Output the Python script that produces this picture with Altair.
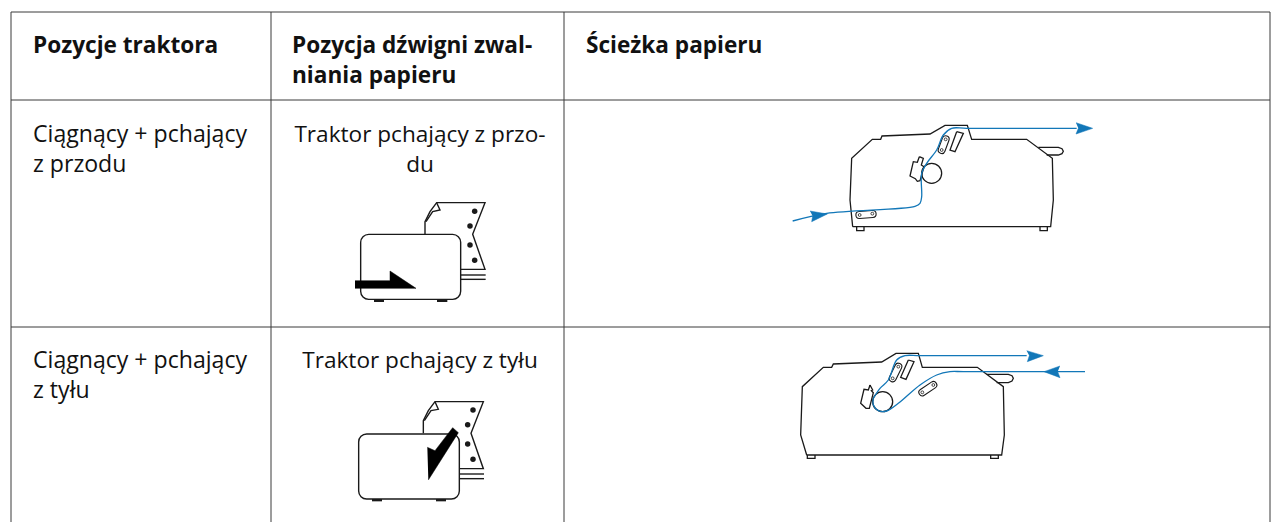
import altair as alt
import pandas as pd

FONT = "Open Sans"
SIZE = 22.6
SIZE_LEFT = 23.1
# ---------- table text ----------
header_left = [("Pozycje traktora", 33, 53), ("Pozycja dźwigni zwal-", 292, 53), ("niania papieru", 292, 83), ("Ścieżka papieru", 586, 53)]
body_left = [("Ciągnący + pchający", 33, 142), ("z przodu", 33, 172), ("Ciągnący + pchający", 33, 368), ("z tyłu", 33, 398)]
body_center = [("Traktor pchający z przo-", 420, 142), ("du", 420, 172), ("Traktor pchający z tyłu", 420, 368)]
# ---------- table grid (x, y, x2, y2) ----------
grid = [(11, 12, 1270, 12), (11, 100, 1270, 100), (11, 327, 1270, 327),
        (11, 12, 11, 522), (271, 12, 271, 522), (564, 12, 564, 522), (1270, 12, 1270, 522)]

A = (340, 190)
a_paper = [[(255, 133), (255, 95), (270, 65), (290, 38), (435, 38), (398, 133), (435, 238), (362, 238)],
           [(290, 38), (300, 60), (278, 65), (258, 95)],
           [(362, 255), (437, 255)], [(362, 268), (437, 268)]]
a_dots = [(404, 64), (390, 108), (390, 165), (404, 211)]
a_box = (62, 133, 362, 328)
a_feet = [(102, 328, 132, 336), (291, 328, 322, 336)]
a_arrow = [(45, 272), (150, 272), (150, 243), (228, 295), (45, 295)]
# ---------- icon 2, crop at (340,390) ----------
B = (340, 390)
b_paper = [[(250, 130), (250, 92), (265, 62), (285, 35), (430, 35), (393, 130), (430, 236), (358, 236)],
           [(285, 35), (295, 58), (273, 62), (253, 92)],
           [(358, 252), (432, 252)], [(358, 266), (432, 266)]]
b_dots = [(399, 60), (383, 104), (383, 162), (399, 208)]
b_box = (56, 132, 358, 327)
b_feet = [(96, 327, 126, 334), (288, 327, 318, 334)]
b_arrow = [(262, 172), (285, 182), (338, 113), (355, 128), (265, 270)]
# ---------- printer 1, crop at (780,110) ----------
C = (780, 110)
c_outline = [[(218, 350), (210, 270), (215, 145), (277, 88), (302, 88), (306, 78), (450, 72), (495, 46), (562, 46),
              (575, 88), (740, 88), (817, 145), (820, 270), (812, 350), (218, 350)],
             [(775, 112), (835, 112), (846, 116), (850, 124), (846, 131), (835, 135), (800, 135)],
             [(230, 350), (230, 362), (252, 362), (252, 350)], [(780, 350), (780, 362), (802, 362), (802, 350)],
             [(418, 140), (430, 145), (424, 165), (432, 170), (420, 212), (412, 214), (406, 206), (390, 198), (400, 155), (412, 157), (418, 140)],
             [(530, 65), (550, 70), (525, 125), (510, 120), (530, 65)]]
c_pills = [[(497, 88), (485, 120)], [(238, 315), (278, 312)]]
c_holes = [(497, 88), (485, 120), (239, 315), (277, 311)]
c_roller = [(455, 190)]
c_blue = [[(38, 333), (140, 310), (405, 289), (420, 280), (425, 260), (425, 190), (440, 160), (470, 120), (490, 75), (515, 55), (560, 55), (890, 55)]]
c_heads = [[(888, 38), (938, 55), (888, 72), (895, 55)], [(90, 303), (142, 312), (95, 335), (98, 318)]]
# ---------- printer 2, crop at (790,340) ----------
D = (790, 340)
d_outline = [[(50, 345), (32, 285), (37, 140), (100, 82), (125, 82), (130, 72), (275, 66), (318, 40), (385, 40),
              (397, 82), (562, 82), (640, 140), (643, 285), (635, 345), (50, 345)],
             [(590, 103), (655, 103), (666, 107), (670, 115), (666, 123), (655, 128), (620, 128)],
             [(52, 345), (52, 355), (75, 355), (75, 345)], [(602, 345), (602, 355), (625, 355), (625, 345)],
             [(240, 135), (248, 150), (244, 152), (250, 158), (238, 205), (228, 205), (212, 190), (222, 148), (235, 150), (240, 135)],
             [(355, 60), (372, 65), (348, 118), (332, 112), (355, 60)]]
d_pills = [[(325, 80), (308, 115)], [(430, 135), (397, 157)]]
d_holes = [(325, 80), (308, 115), (430, 135), (397, 157)]
d_roller = [(278, 185)]
d_blue = [[(250, 175), (270, 145), (295, 120), (320, 60), (345, 47), (390, 47), (710, 47)],
          [(885, 95), (520, 95), (480, 95), (440, 105), (390, 135), (325, 190), (290, 213), (265, 212), (250, 195), (250, 175)]]
d_heads = [[(710, 32), (760, 47), (712, 65), (718, 47)], [(810, 78), (762, 95), (810, 113), (803, 95)]]

INK = "#1a1a1a"
BLUE = "#1277b8"
LINE = "#3a3a3a"
X = alt.Scale(domain=[8, 1272], nice=False, zero=False)
Y = alt.Scale(domain=[522, 8], nice=False, zero=False)


def z(o, p):
    return (o[0] + p[0] / 3, o[1] + p[1] / 3)


def xy():
    return dict(x=alt.X("x:Q", scale=X, axis=None), y=alt.Y("y:Q", scale=Y, axis=None))


def paths(origin, plist, **mark):
    rows = [{"x": z(origin, p)[0], "y": z(origin, p)[1], "g": i, "k": k}
            for i, pl in enumerate(plist) for k, p in enumerate(pl)]
    return alt.Chart(pd.DataFrame(rows)).mark_line(**mark).encode(detail="g:N", order="k:Q", **xy())


def points(origin, pts, **mark):
    rows = [{"x": z(origin, p)[0], "y": z(origin, p)[1]} for p in pts]
    return alt.Chart(pd.DataFrame(rows)).mark_point(**mark).encode(**xy())


def boxes(origin, blist, **mark):
    rows = []
    for b in blist:
        p, q = z(origin, b[:2]), z(origin, b[2:])
        rows.append({"x": p[0], "y": p[1], "x2": q[0], "y2": q[1]})
    return alt.Chart(pd.DataFrame(rows)).mark_rect(**mark).encode(x2="x2:Q", y2="y2:Q", **xy())


def texts(rows, size=SIZE, **mark):
    df = pd.DataFrame(rows, columns=["t", "x", "y"])
    return alt.Chart(df).mark_text(font=FONT, fontSize=size, baseline="alphabetic", color="#111111", **mark).encode(text="t:N", **xy())


def icon(o, paper, dots, box, feet, arrow):
    return [
        paths(o, paper, color=INK, strokeWidth=1.4),
        points(o, dots, filled=True, color=INK, opacity=1, size=30, shape="circle"),
        boxes(o, [box], fill="white", stroke=INK, strokeWidth=1.4, cornerRadius=8),
        boxes(o, feet, fill=INK),
        paths(o, [arrow], color="black", fill="black", strokeWidth=0.5),
    ]


def printer(o, outline, pills, holes, roller, blue, heads):
    return [
        paths(o, outline, color=INK, strokeWidth=1.3),
        paths(o, pills, color=INK, strokeWidth=8, strokeCap="round"),
        paths(o, pills, color="white", strokeWidth=5.8, strokeCap="round"),
        points(o, holes, color=INK, size=8, strokeWidth=0.8, opacity=1, shape="circle"),
        points(o, roller, color=INK, size=400, strokeWidth=1.3, opacity=1, shape="circle"),
        paths(o, blue, color=BLUE, strokeWidth=1.3, interpolate="catmull-rom"),
        paths(o, heads, color=BLUE, fill=BLUE, strokeWidth=0.5),
    ]


grid_df = pd.DataFrame(grid, columns=["x", "y", "x2", "y2"])
grid_layer = alt.Chart(grid_df).mark_rule(color=LINE, strokeWidth=1).encode(x2="x2:Q", y2="y2:Q", **xy())

layers = [grid_layer,
          texts(header_left, align="left", fontWeight="bold"),
          texts(body_left, size=SIZE_LEFT, align="left"),
          texts(body_center, align="center")]
layers += icon(A, a_paper, a_dots, a_box, a_feet, a_arrow)
layers += icon(B, b_paper, b_dots, b_box, b_feet, b_arrow)
layers += printer(C, c_outline, c_pills, c_holes, c_roller, c_blue, c_heads)
layers += printer(D, d_outline, d_pills, d_holes, d_roller, d_blue, d_heads)

chart = alt.layer(*layers).properties(
    width=1264, height=514, padding=0, background="white", autosize=alt.AutoSizeParams(type="none")
).configure_view(stroke=None)

chart.save("out.html", embed_options={"renderer": "svg", "actions": False})
